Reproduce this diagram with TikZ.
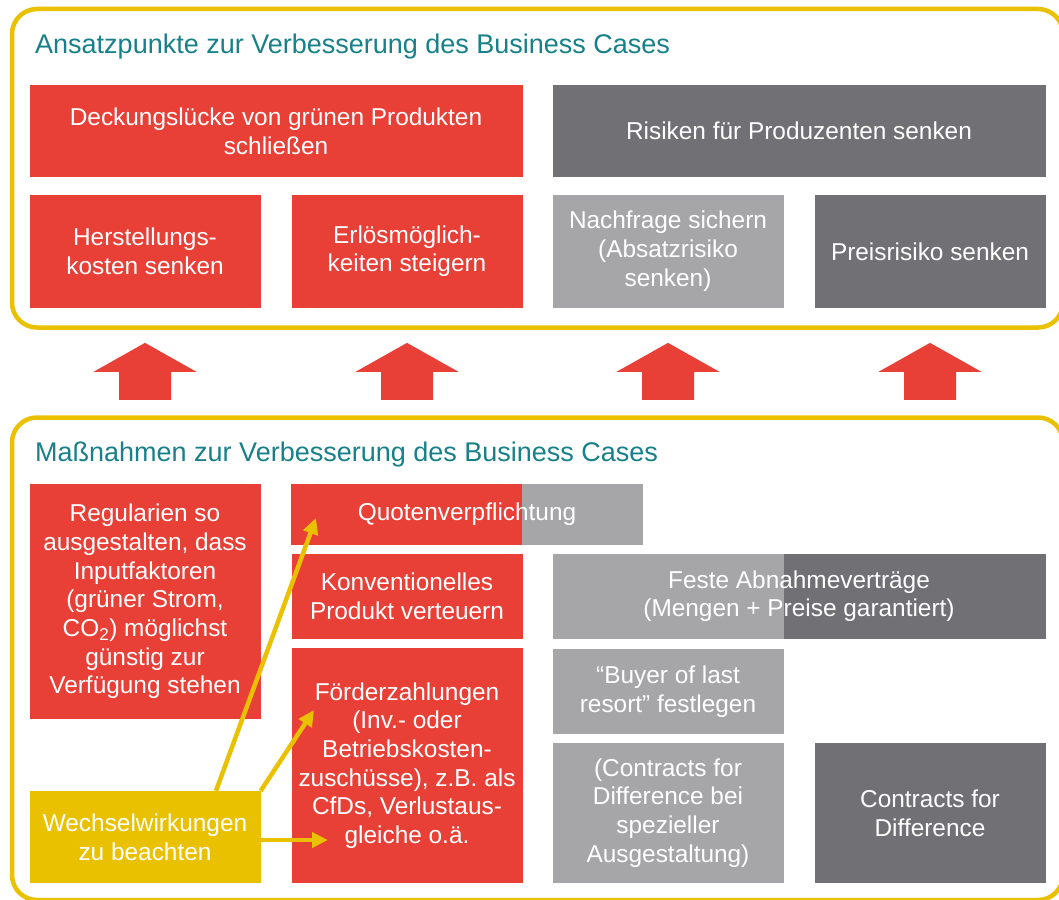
\documentclass[tikz,border=0pt]{standalone}
\usepackage{fontspec}
\setmainfont{Liberation Sans}
\usetikzlibrary{arrows.meta, calc}
\definecolor{boxred}{RGB}{232, 64, 55}
\definecolor{riskdark}{RGB}{113, 113, 117}
\definecolor{risklight}{RGB}{166, 166, 169}
\definecolor{framegold}{RGB}{234, 193, 0}
\definecolor{titleteal}{RGB}{23, 128, 136}
\newcommand{\boxfont}{\fontsize{24.4}{28.7}\selectfont}
\newcommand{\headfont}{\fontsize{27}{32}\selectfont}

\begin{document}
\begin{tikzpicture}[
    x=1pt, y=-1pt,
    frame/.style={draw=framegold, line width=4.5pt, rounded corners=25pt},
    heading/.style={anchor=base west, inner sep=0pt, text=titleteal, font=\headfont},
    cell/.style={inner sep=0pt, minimum width=231pt, align=center, text=white, font=\boxfont},
    hint/.style={-{Triangle[length=16pt, width=15pt]}, draw=framegold, line width=4.5pt},
]
\useasboundingbox (0,0) rectangle (1059,899);

% Frames
\draw[frame] (12,9) rectangle (1063,327.5);
\draw[frame] (12,417.5) rectangle (1063,900);

% Upper block: starting points
\node[heading] (ansatz) at (35,54) {Ansatzpunkte zur Verbesserung des Business Cases};

\node[cell, fill=boxred, minimum width=493pt, minimum height=92.5pt] (luecke) at (276,131) {Deckungslücke von grünen Produkten\\schließen};
\node[cell, fill=riskdark, minimum width=493pt, minimum height=92.5pt] (risiken) at (799,131) {Risiken für Produzenten senken};

\node[cell, fill=boxred, minimum height=112.7pt] (herst) at (145,251.3) {Herstellungs-\\kosten senken};
\node[cell, fill=boxred, minimum height=112.7pt] (erloes) at (407,251.3) {Erlösmöglich-\\keiten steigern};
\node[cell, fill=risklight, minimum height=112.7pt] (absatz) at (668,251.3) {Nachfrage sichern\\(Absatzrisiko\\senken)};
\node[cell, fill=riskdark, minimum height=112.7pt] (preis) at (930,251.3) {Preisrisiko senken};

% Block arrows between the frames
\foreach \col in {herst, erloes, absatz, preis}
  \fill[boxred] ($(\col.south)+(0,35)$) -- ++(51.5,29) -- ++(-25.5,0) -- ++(0,28)
    -- ++(-52,0) -- ++(0,-28) -- ++(-25.5,0) -- cycle;

% Lower block: measures
\node[heading] (massnahmen) at (35,461) {Maßnahmen zur Verbesserung des Business Cases};

\node[cell, fill=boxred, minimum height=235pt] (regeln) at (145,601.5) {Regularien so\\ausgestalten, dass\\Inputfaktoren\\(grüner Strom,\\CO\textsubscript{2}) möglichst\\günstig zur\\Verfügung stehen};
\node[cell, fill=framegold, minimum height=92pt] (wechsel) at (145,837) {Wechselwirkungen\\zu beachten};

\node[cell, fill=risklight, minimum width=352pt, minimum height=61pt,
      path picture={\fill[boxred] (path picture bounding box.north west) rectangle ([xshift=231pt]path picture bounding box.south west);}]
      (quote) at (467,514) {Quotenverpflichtung};
\node[cell, fill=boxred, minimum height=84.5pt] (verteuern) at (407,596.3) {Konventionelles\\Produkt verteuern};
\node[cell, fill=boxred, minimum height=235pt] (foerder) at (407,765.5) {Förderzahlungen\\(Inv.- oder\\Betriebskosten-\\zuschüsse), z.B. als\\CfDs, Verlustaus-\\gleiche o.ä.};

\node[cell, fill=riskdark, minimum width=493pt, minimum height=84.5pt,
      path picture={\fill[risklight] (path picture bounding box.north west) rectangle ([xshift=231pt]path picture bounding box.south west);}]
      (abnahme) at (799,596.3) {Feste Abnahmeverträge\\(Mengen + Preise garantiert)};
\node[cell, fill=risklight, minimum height=85pt] (buyer) at (668,691.5) {“Buyer of last\\resort” festlegen};
\node[cell, fill=risklight, minimum height=140pt] (cfdspez) at (668,813) {(Contracts for\\Difference bei\\spezieller\\Ausgestaltung)};
\node[cell, fill=riskdark, minimum height=140pt] (cfd) at (930,813) {Contracts for\\Difference};

% Interactions
\coordinate (quotehit) at (316,518);
\coordinate (foerderhit) at (314,710);
\coordinate (foerderside) at (328,840);
\draw[hint] ($(wechsel.north)+(71,0)$) -- (quotehit);
\draw[hint] (wechsel.north east) -- (foerderhit);
\draw[hint] ($(wechsel.east)+(0,3)$) -- (foerderside);
\end{tikzpicture}
\end{document}
